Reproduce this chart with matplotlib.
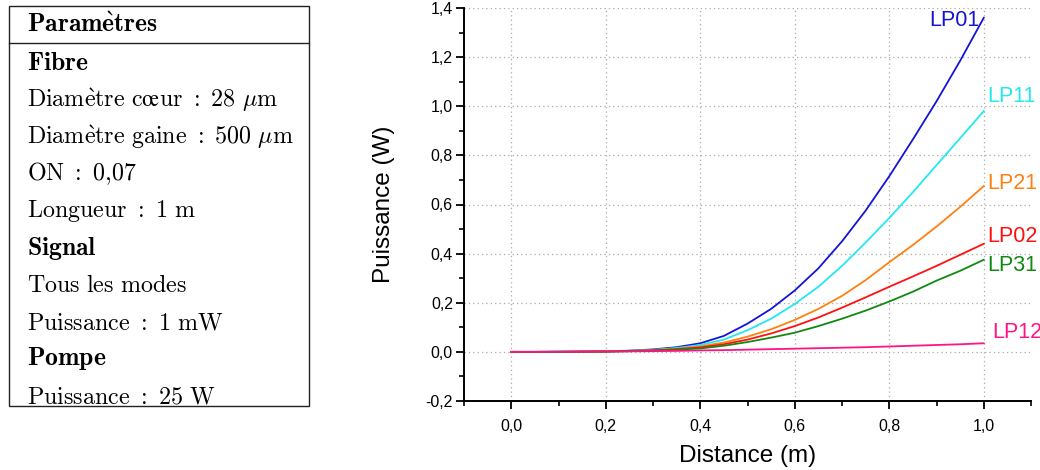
import matplotlib
matplotlib.use('Agg')
import matplotlib.pyplot as plt
from matplotlib.ticker import MultipleLocator, FuncFormatter
from matplotlib.patches import Rectangle

# distance along the fibre (m)
distance = [0.0, 0.05, 0.10, 0.15, 0.20, 0.25, 0.30, 0.35, 0.40, 0.45, 0.50,
            0.55, 0.60, 0.65, 0.70, 0.75, 0.80, 0.85, 0.90, 0.95, 1.00]

# signal power per mode (W)
lp01 = [0, 0, 0.001, 0.001, 0.002, 0.005, 0.010, 0.019, 0.035, 0.065, 0.115,
        0.175, 0.250, 0.340, 0.450, 0.575, 0.715, 0.865, 1.020, 1.185, 1.360]
lp11 = [0, 0, 0.001, 0.001, 0.002, 0.004, 0.008, 0.016, 0.028, 0.050, 0.088,
        0.135, 0.195, 0.265, 0.350, 0.445, 0.545, 0.650, 0.760, 0.870, 0.980]
lp21 = [0, 0, 0, 0.001, 0.002, 0.004, 0.007, 0.013, 0.022, 0.038, 0.062,
        0.092, 0.130, 0.175, 0.228, 0.292, 0.365, 0.435, 0.510, 0.590, 0.675]
lp02 = [0, 0, 0, 0.001, 0.002, 0.003, 0.006, 0.011, 0.018, 0.031, 0.050,
        0.075, 0.105, 0.140, 0.180, 0.222, 0.265, 0.307, 0.350, 0.395, 0.440]
lp31 = [0, 0, 0, 0.001, 0.001, 0.003, 0.005, 0.009, 0.014, 0.025, 0.040,
        0.058, 0.078, 0.105, 0.135, 0.168, 0.205, 0.245, 0.290, 0.330, 0.375]
lp12 = [0, 0, 0.0005, 0.001, 0.0015, 0.002, 0.003, 0.004, 0.006, 0.007, 0.009,
        0.011, 0.013, 0.015, 0.017, 0.019, 0.022, 0.025, 0.028, 0.031, 0.035]

modes = ['LP01', 'LP11', 'LP21', 'LP02', 'LP31', 'LP12']
powers = [lp01, lp11, lp21, lp02, lp31, lp12]
colors = ['#1414d6', '#22e8f0', '#ff8010', '#ff1010', '#118811', '#ff1488']
# label anchor (x, y, ha) in data units
label_pos = [(0.99, 1.35, 'right'), (1.008, 1.04, 'left'), (1.008, 0.686, 'left'),
             (1.008, 0.47, 'left'), (1.008, 0.35, 'left'), (1.017, 0.08, 'left')]

# parameter table (mathtext, bold)
title = r'$\mathbf{Param\grave{e}tres}$'
params = [(r'$\mathbf{Fibre}$', True),
          (r'$\mathrm{Diam\grave{e}tre\ c\oe ur\ {:}\ 28\ }\mu\mathrm{m}$', False),
          (r'$\mathrm{Diam\grave{e}tre\ gaine\ {:}\ 500\ }\mu\mathrm{m}$', False),
          (r'$\mathrm{ON\ {:}\ 0{,}07}$', False),
          (r'$\mathrm{Longueur\ {:}\ 1\ m}$', False),
          (r'$\mathbf{Signal}$', True),
          (r'$\mathrm{Tous\ les\ modes}$', False),
          (r'$\mathrm{Puissance\ {:}\ 1\ mW}$', False),
          (r'$\mathbf{Pompe}$', True),
          (r'$\mathrm{Puissance\ {:}\ 25\ W}$', False)]

plt.rcParams['mathtext.fontset'] = 'cm'

W, H = 1040, 470
fig = plt.figure(figsize=(W / 100, H / 100), dpi=100)

# ---- table on the left ----
fig.patches.append(Rectangle((9 / W, 1 - 406 / H), 300 / W, 400 / H,
                             transform=fig.transFigure, fill=False,
                             edgecolor='#222222', linewidth=1.0))
fig.lines.append(plt.Line2D([9 / W, 309 / W], [1 - 43 / H, 1 - 43 / H],
                            transform=fig.transFigure, color='#222222', linewidth=1.0))
fig.text(27 / W, 1 - 25 / H, title, fontsize=18.5, va='center', ha='left')
for i, (txt, bold) in enumerate(params):
    y = 63 + i * 37
    fig.text(27 / W, 1 - y / H, txt, fontsize=18.5 if bold else 17.3,
             va='center', ha='left')

# ---- plot ----
ax = fig.add_axes([464 / W, 1 - 401 / H, (1031 - 464) / W, (401 - 8) / H])
for p, c in zip(powers, colors):
    ax.plot(distance, p, color=c, linewidth=1.3)
for name, c, (lx, ly, ha) in zip(modes, colors, label_pos):
    ax.text(lx, ly, name, color=c, fontsize=15.5, ha=ha, va='center',
            family='Liberation Sans')

ax.set_xlim(-0.1, 1.1)
ax.set_ylim(-0.2, 1.4)
ax.xaxis.set_major_locator(MultipleLocator(0.2))
ax.xaxis.set_minor_locator(MultipleLocator(0.1))
ax.yaxis.set_major_locator(MultipleLocator(0.2))
ax.yaxis.set_minor_locator(MultipleLocator(0.1))
fmt = FuncFormatter(lambda v, pos: ('%.1f' % v).replace('.', ',').replace('-0,0', '0,0'))
ax.xaxis.set_major_formatter(fmt)
ax.yaxis.set_major_formatter(fmt)

ax.spines['top'].set_visible(False)
ax.spines['right'].set_visible(False)
ax.spines['left'].set_linewidth(1.4)
ax.spines['bottom'].set_linewidth(1.4)
ax.tick_params(which='major', direction='out', length=6, width=1.3,
               labelsize=11.5, pad=7)
ax.tick_params(which='minor', direction='out', length=3.5, width=1.2)
ax.tick_params(axis='y', which='major', pad=2)
for lab in ax.get_xticklabels() + ax.get_yticklabels():
    lab.set_family('Liberation Sans')

ax.grid(True, which='major', linestyle=(0, (1, 2.5)), color='#aaaaaa', linewidth=0.9)
ax.set_axisbelow(True)

ax.set_xlabel('Distance (m)', fontsize=17.5, family='Liberation Sans', labelpad=8)
ax.set_ylabel('Puissance (W)', fontsize=17.5, family='Liberation Sans', labelpad=22)

fig.savefig('out.png', dpi=100)
